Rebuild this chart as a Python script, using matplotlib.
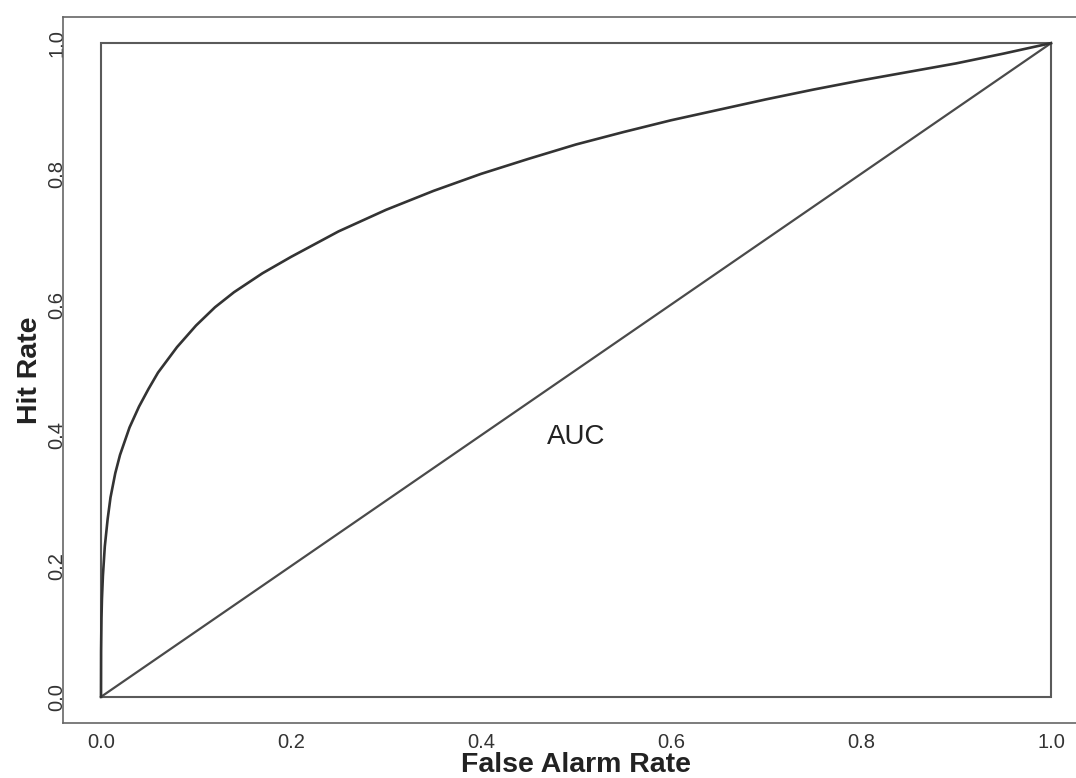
import matplotlib
matplotlib.use("Agg")
import matplotlib.pyplot as plt

plt.rcParams['font.family'] = ['Liberation Sans', 'DejaVu Sans']

# ROC curve values (false alarm rate, hit rate)
far = [0.0, 0.0001, 0.0005, 0.001, 0.002, 0.004, 0.007, 0.01, 0.015, 0.02,
       0.03, 0.04, 0.05, 0.06, 0.08, 0.10, 0.12, 0.14, 0.17, 0.20,
       0.25, 0.30, 0.35, 0.40, 0.45, 0.50, 0.55, 0.60, 0.65, 0.70,
       0.75, 0.80, 0.85, 0.90, 0.95, 1.0]
hit = [0.0, 0.07, 0.12, 0.15, 0.185, 0.23, 0.272, 0.305, 0.342, 0.37,
       0.412, 0.444, 0.471, 0.496, 0.535, 0.568, 0.596, 0.619, 0.648, 0.673,
       0.712, 0.745, 0.774, 0.80, 0.823, 0.845, 0.864, 0.882, 0.898, 0.914,
       0.929, 0.943, 0.956, 0.969, 0.984, 1.0]

# reference (chance) diagonal
diag_x = [0.0, 1.0]
diag_y = [0.0, 1.0]

# unit box
box_x = [0.0, 1.0, 1.0, 0.0, 0.0]
box_y = [0.0, 0.0, 1.0, 1.0, 0.0]

ticks = [0.0, 0.2, 0.4, 0.6, 0.8, 1.0]
tick_labels = ["0.0", "0.2", "0.4", "0.6", "0.8", "1.0"]

W, H = 1076, 778
fig = plt.figure(figsize=(W / 100, H / 100), dpi=100)
ax = fig.add_axes([63 / W, 55 / H, 1026 / W, 706 / H])

ax.plot(box_x, box_y, color='#5a5a5a', lw=1.5, solid_joinstyle='miter')
ax.plot(diag_x, diag_y, color='#4a4a4a', lw=1.6)
ax.plot(far, hit, color='#333333', lw=1.9, solid_joinstyle='round')

ax.text(0.5, 0.387, "AUC", fontsize=20, color='#222222', ha='center', va='baseline')

ax.set_xlim(-0.04, 1.04)
ax.set_ylim(-0.04, 1.04)
ax.set_xticks(ticks)
ax.set_xticklabels(tick_labels)
ax.set_yticks(ticks)
ax.set_yticklabels(tick_labels, rotation=90, va='center')
ax.tick_params(axis='x', length=0, pad=7, labelsize=14.5, labelcolor='#333333')
ax.tick_params(axis='y', length=0, pad=-2.5, labelsize=14.5, labelcolor='#333333')

for s in ax.spines.values():
    s.set_color('#666666')
    s.set_linewidth(1.2)

fig.text(576 / W, 1 - 772 / H, "False Alarm Rate", fontsize=20.5, fontweight='bold',
         ha='center', va='baseline', color='#222222')
fig.text(30 / W, 1 - 370 / H, "Hit Rate", fontsize=20.5, fontweight='bold',
         rotation=90, ha='center', va='center', color='#222222')

fig.savefig("out.png", dpi=100)
